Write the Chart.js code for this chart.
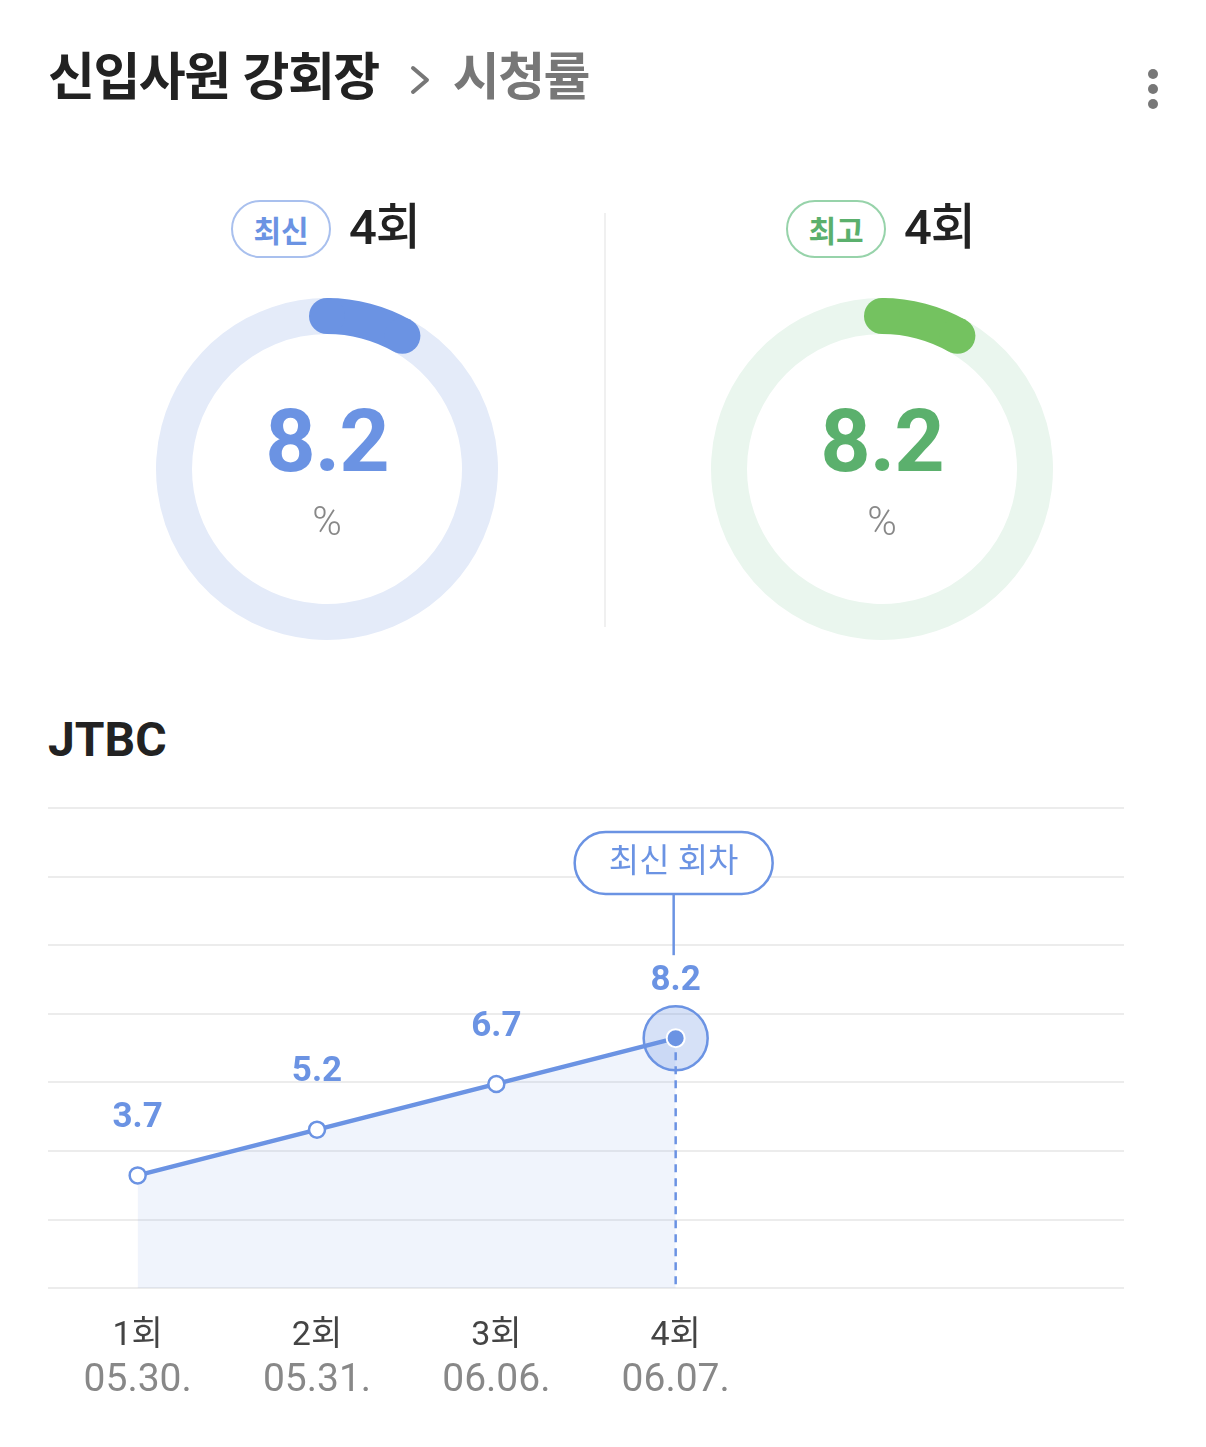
<!DOCTYPE html>
<html lang="ko">
<head>
<meta charset="utf-8">
<title>신입사원 강회장 시청률</title>
<script src="https://cdn.jsdelivr.net/npm/chart.js@4"></script>
<style>
  body { margin: 0; width: 1206px; height: 1447px; background: #fff; position: relative; overflow: hidden;
         font-family: "Roboto", "Noto Sans CJK KR", sans-serif; }
  .abs { position: absolute; white-space: nowrap; }
  .title { left: 48px; top: 43px; font-size: 51px; line-height: 60px; font-weight: 700; color: #222;
           letter-spacing: -1.5px; font-family: "Noto Sans CJK KR", sans-serif; }
  .title .sub { color: #777; margin-left: 74px; }
  .dot { width: 10px; height: 10px; border-radius: 50%; background: #777; left: 1148px; }
  .badge { height: 58px; width: 100px; box-sizing: border-box; border: 2px solid; border-radius: 29px;
           font-family: "Noto Sans CJK KR", sans-serif; font-size: 30px; font-weight: 700;
           display: flex; align-items: center; justify-content: center; top: 200px; }
  .ep { top: 198px; font-size: 49px; line-height: 60px; font-weight: 500; color: #222; letter-spacing: -1px; }
  .big { width: 360px; text-align: center; top: 391px; font-size: 88px; line-height: 100px; font-weight: 700; letter-spacing: -1px; }
  .pct { width: 360px; text-align: center; top: 497px; font-size: 40px; line-height: 50px; font-weight: 300; color: #888; }
  .divider { left: 604px; top: 213px; width: 2px; height: 414px; background: #f0f0f0; }
  .jtbc { left: 48px; top: 710px; font-size: 48px; line-height: 60px; font-weight: 700; color: #222; }
</style>
</head>
<body>
<div class="abs title">신입사원 강회장<span class="sub">시청률</span></div>
<svg class="abs" style="left:405px;top:60px" width="30" height="40">
  <polyline points="8,8 22,20 8,32" fill="none" stroke="#777" stroke-width="4" stroke-linecap="round" stroke-linejoin="round"/>
</svg>
<div class="abs dot" style="top:69px"></div>
<div class="abs dot" style="top:84px"></div>
<div class="abs dot" style="top:99px"></div>

<div class="abs divider"></div>
<div id="gauges"></div>

<div class="abs jtbc">JTBC</div>
<canvas id="lineChart" class="abs" style="left:0;top:780px" width="1206" height="660"></canvas>

<script>
// 상단 게이지
const GAUGE_TAGS = ["최신", "최고"];
const GAUGE_EPISODES = ["4회", "4회"];
const GAUGE_VALUES = [8.2, 8.2];

// 회차별 시청률
const EPISODES = ["1회", "2회", "3회", "4회"];
const DATES = ["05.30.", "05.31.", "06.06.", "06.07."];
const RATINGS = [3.7, 5.2, 6.7, 8.2];
const SLOT_COUNT = 6;
const Y_MAX = 15.75;
const Y_STEP = 2.25;

const BLUE = "#6b93e3";
const FONT = '"Roboto", "Noto Sans CJK KR", sans-serif';

const gaugeStyles = [
  { left: 147, badgeLeft: 231, epLeft: 349, main: "#6b93e3", ring: "#e4ebf9", text: "#6b93e3", border: "#a9c0ee" },
  { left: 702, badgeLeft: 786, epLeft: 904, main: "#74c260", ring: "#eaf6ee", text: "#5bb06d", border: "#97d3aa" },
];

// 둥근 끝 처리
const roundCaps = {
  id: "roundCaps",
  afterDatasetsDraw(chart) {
    const ctx = chart.ctx;
    const arc = chart.getDatasetMeta(0).data[0];
    const p = arc.getProps(["x", "y", "startAngle", "endAngle", "innerRadius", "outerRadius"]);
    const r = (p.innerRadius + p.outerRadius) / 2;
    const w = (p.outerRadius - p.innerRadius) / 2;
    ctx.save();
    ctx.fillStyle = arc.options.backgroundColor;
    [p.startAngle, p.endAngle].forEach((a) => {
      ctx.beginPath();
      ctx.arc(p.x + Math.cos(a) * r, p.y + Math.sin(a) * r, w, 0, Math.PI * 2);
      ctx.fill();
    });
    ctx.restore();
  },
};

const cont = document.getElementById("gauges");
GAUGE_VALUES.forEach((v, i) => {
  const s = gaugeStyles[i];
  cont.insertAdjacentHTML("beforeend",
    `<div class="abs badge" style="left:${s.badgeLeft}px;border-color:${s.border};color:${s.text}">${GAUGE_TAGS[i]}</div>
     <div class="abs ep" style="left:${s.epLeft}px">${GAUGE_EPISODES[i]}</div>
     <canvas id="g${i}" class="abs" style="left:${s.left}px;top:289px" width="360" height="360"></canvas>
     <div class="abs big" style="left:${s.left}px;color:${s.text}">${v}</div>
     <div class="abs pct" style="left:${s.left}px">%</div>`);
  new Chart(document.getElementById("g" + i), {
    type: "doughnut",
    data: {
      datasets: [{
        data: [v, 100 - v],
        backgroundColor: [s.main, s.ring],
        borderWidth: 0,
      }],
    },
    options: {
      responsive: false,
      animation: false,
      events: [],
      cutout: 135,
      layout: { padding: 9 },
      plugins: { legend: { display: false }, tooltip: { enabled: false } },
    },
    plugins: [roundCaps],
  });
});

// 라인 차트 꾸밈
const lineDecor = {
  id: "lineDecor",
  beforeDatasetsDraw(chart) {
    const ctx = chart.ctx;
    const pts = chart.getDatasetMeta(0).data;
    const last = pts[pts.length - 1];
    ctx.save();
    ctx.strokeStyle = BLUE;
    ctx.lineWidth = 2.5;
    ctx.setLineDash([8, 6]);
    ctx.beginPath();
    ctx.moveTo(last.x, last.y);
    ctx.lineTo(last.x, chart.chartArea.bottom);
    ctx.stroke();
    ctx.restore();
  },
  afterDatasetsDraw(chart) {
    const ctx = chart.ctx;
    const pts = chart.getDatasetMeta(0).data;
    const last = pts[pts.length - 1];
    ctx.save();
    // 최신 포인트 강조
    ctx.beginPath();
    ctx.arc(last.x, last.y, 32, 0, Math.PI * 2);
    ctx.fillStyle = "rgba(107,147,227,0.28)";
    ctx.fill();
    ctx.lineWidth = 2.5;
    ctx.strokeStyle = BLUE;
    ctx.stroke();
    ctx.beginPath();
    ctx.arc(last.x, last.y, 9, 0, Math.PI * 2);
    ctx.fillStyle = BLUE;
    ctx.fill();
    ctx.lineWidth = 2;
    ctx.strokeStyle = "#fff";
    ctx.stroke();

    // 값 라벨
    ctx.font = "700 35px " + FONT;
    ctx.fillStyle = BLUE;
    ctx.textAlign = "center";
    ctx.textBaseline = "middle";
    pts.forEach((pt, i) => ctx.fillText(RATINGS[i], pt.x, pt.y - 57));

    // 최신 회차 말풍선
    const cy = chart.chartArea.top + 55;
    const w = 198, h = 62;
    ctx.beginPath();
    ctx.moveTo(last.x - 2, cy + h / 2);
    ctx.lineTo(last.x - 2, last.y - 83);
    ctx.lineWidth = 2.5;
    ctx.strokeStyle = BLUE;
    ctx.stroke();
    ctx.beginPath();
    ctx.roundRect(last.x - 2 - w / 2, cy - h / 2, w, h, h / 2);
    ctx.fillStyle = "#fff";
    ctx.fill();
    ctx.stroke();
    ctx.font = "400 33px " + FONT;
    ctx.fillStyle = BLUE;
    ctx.fillText("최신 회차", last.x - 2, cy + 1);
    ctx.restore();
  },
  afterDraw(chart) {
    // 방송 날짜 (회차 아래)
    const ctx = chart.ctx;
    const xs = chart.scales.x;
    ctx.save();
    ctx.font = "400 39px " + FONT;
    ctx.fillStyle = "#888";
    ctx.textAlign = "center";
    ctx.textBaseline = "middle";
    DATES.forEach((d, i) => ctx.fillText(d, xs.getPixelForValue(i), chart.chartArea.bottom + 93));
    ctx.restore();
  },
};

const pad = (arr) => arr.concat(Array(SLOT_COUNT - arr.length).fill(""));

new Chart(document.getElementById("lineChart"), {
  type: "line",
  data: {
    labels: pad(EPISODES),
    datasets: [{
      data: RATINGS,
      borderColor: BLUE,
      borderWidth: 4.5,
      tension: 0,
      fill: "origin",
      backgroundColor: "rgba(107,147,227,0.1)",
      pointRadius: RATINGS.map((_, i) => (i === RATINGS.length - 1 ? 0 : 8)),
      pointBackgroundColor: "#fff",
      pointBorderColor: BLUE,
      pointBorderWidth: 2.5,
    }],
  },
  options: {
    responsive: false,
    animation: false,
    events: [],
    layout: { padding: { left: 48, right: 82, top: 28, bottom: 55 } },
    plugins: { legend: { display: false }, tooltip: { enabled: false } },
    scales: {
      x: {
        offset: true,
        grid: { display: false, drawTicks: false },
        border: { display: false },
        ticks: { autoSkip: false, maxRotation: 0, padding: 28, color: "#444", font: { family: FONT, size: 34 } },
      },
      y: {
        min: 0,
        max: Y_MAX,
        ticks: { display: false, stepSize: Y_STEP },
        grid: { color: "#ececec", lineWidth: 2, drawTicks: false },
        border: { display: false },
      },
    },
  },
  plugins: [lineDecor],
});
</script>
</body>
</html>
